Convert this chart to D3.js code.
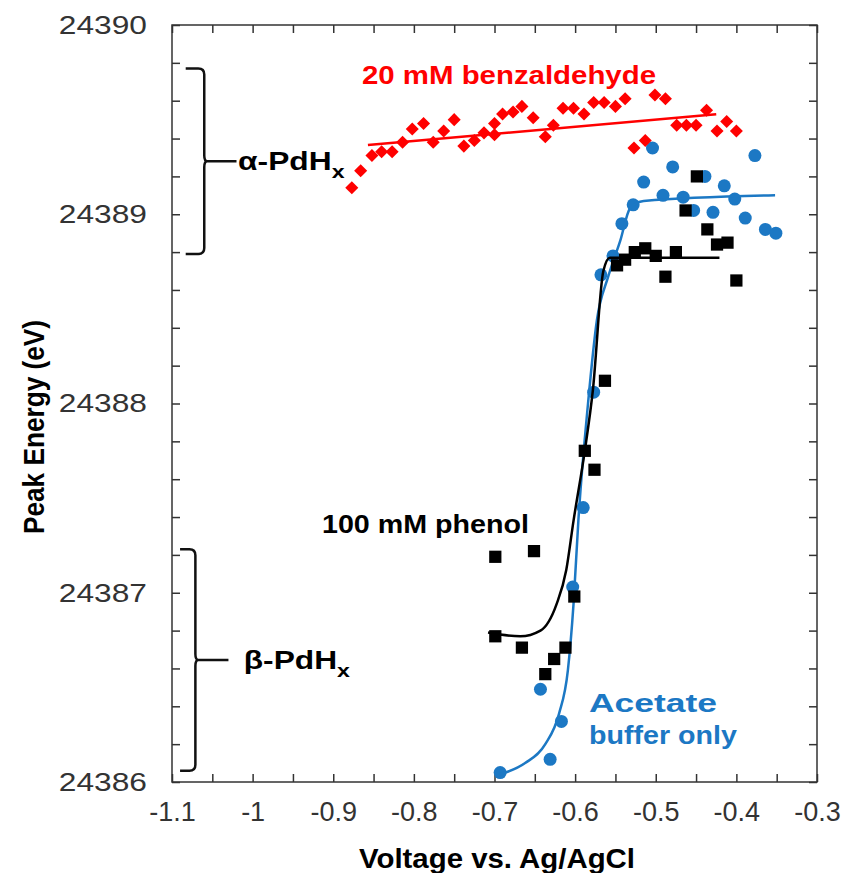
<!DOCTYPE html>
<html>
<head>
<meta charset="utf-8">
<script src="https://cdn.jsdelivr.net/npm/d3@7"></script>
<style>
  body { margin: 0; background: #fff; }
  text { font-family: "Liberation Sans", Arial, sans-serif; }
</style>
</head>
<body>
<script>
// peak energy vs voltage, three conditions + fitted lines

var W = 848, H = 873;

// x tick labels (major every 0.1) and y tick labels (every 1 eV)
var xTickLabels = ["-1.1", "-1", "-0.9", "-0.8", "-0.7", "-0.6", "-0.5", "-0.4", "-0.3"];
var yTickLabels = ["24386", "24387", "24388", "24389", "24390"];

// 20 mM benzaldehyde (red diamonds)
var benzX = [-0.877, -0.866, -0.852, -0.840, -0.827, -0.814, -0.802, -0.788, -0.776, -0.763,
             -0.750, -0.738, -0.725, -0.713, -0.700, -0.700, -0.690, -0.677, -0.666, -0.652,
             -0.637, -0.627, -0.615, -0.602, -0.589, -0.577, -0.564, -0.550, -0.538, -0.527,
             -0.513, -0.501, -0.488, -0.474, -0.462, -0.450, -0.437, -0.424, -0.412, -0.400];
var benzY = [24389.14, 24389.23, 24389.31, 24389.33, 24389.33, 24389.38, 24389.45, 24389.48, 24389.38, 24389.44,
             24389.50, 24389.36, 24389.39, 24389.43, 24389.48, 24389.42, 24389.53, 24389.54, 24389.57, 24389.51,
             24389.41, 24389.47, 24389.56, 24389.56, 24389.53, 24389.59, 24389.59, 24389.57, 24389.61, 24389.35,
             24389.39, 24389.63, 24389.61, 24389.47, 24389.47, 24389.47, 24389.55, 24389.44, 24389.49, 24389.44];
var benzFitX = [-0.857, -0.425];
var benzFitY = [24389.366, 24389.528];

// acetate buffer only (blue circles)
var acetX = [-0.693, -0.643, -0.631, -0.617, -0.603, -0.590, -0.577, -0.568, -0.553, -0.542,
             -0.528, -0.515, -0.504, -0.491, -0.479, -0.466, -0.453, -0.439, -0.429, -0.415,
             -0.402, -0.389, -0.377, -0.364, -0.351];
var acetY = [24386.05, 24386.49, 24386.12, 24386.32, 24387.03, 24387.45, 24388.06, 24388.68, 24388.78, 24388.95,
             24389.05, 24389.17, 24389.35, 24389.10, 24389.25, 24389.09, 24389.02, 24389.20, 24389.01, 24389.15,
             24389.08, 24388.98, 24389.31, 24388.92, 24388.90];
var acetFitX = [-0.693, -0.662, -0.637, -0.620, -0.609, -0.602, -0.596, -0.584, -0.573, -0.559, -0.544, -0.532, -0.515, -0.352];
var acetFitY = [24386.04, 24386.10, 24386.20, 24386.36, 24386.59, 24386.94, 24387.38, 24388.00, 24388.44, 24388.67, 24388.86, 24389.03, 24389.07, 24389.10];

// 100 mM phenol (black squares)
var phenX = [-0.699, -0.651, -0.699, -0.666, -0.637, -0.626, -0.612, -0.601, -0.576, -0.588,
             -0.563, -0.548, -0.538, -0.526, -0.513, -0.500, -0.488, -0.475, -0.463, -0.449,
             -0.436, -0.424, -0.411, -0.400];
var phenY = [24387.19, 24387.22, 24386.77, 24386.71, 24386.57, 24386.65, 24386.71, 24386.98, 24387.65, 24387.75,
             24388.12, 24388.73, 24388.76, 24388.80, 24388.82, 24388.78, 24388.67, 24388.80, 24389.02, 24389.20,
             24388.92, 24388.84, 24388.85, 24388.65];
var phenFitX = [-0.708, -0.668, -0.643, -0.623, -0.611, -0.602, -0.588, -0.578, -0.565, -0.557, -0.519, -0.421];
var phenFitY = [24386.79, 24386.77, 24386.80, 24386.94, 24387.12, 24387.38, 24387.75, 24388.07, 24388.70, 24388.77, 24388.77, 24388.77];

var red = "#ff0000", blue = "#1c78c4", black = "#000000";
var SX = 1.22; // the source figure's text is stretched sideways

var svg = d3.select("body").append("svg").attr("width", W).attr("height", H);

var x = d3.scaleLinear().domain([-1.1, -0.3]).range([172, 817]);
var y = d3.scaleLinear().domain([24386, 24390]).range([782, 25]);

// ticks: 0.05 on x, 0.2 on y, all pointing inward
var xTicks = d3.range(0, 17).map(function(i) { return -1.1 + i * 0.05; });
var yTicks = d3.range(0, 21).map(function(i) { return 24386 + i * 0.2; });

function xLab(d) {
  var k = Math.round((d + 1.1) / 0.05);
  return k % 2 == 0 ? xTickLabels[k / 2] : "";
}
function yLab(d) {
  var k = Math.round((d - 24386) / 0.2);
  return k % 5 == 0 ? yTickLabels[k / 5] : "";
}

var axB = svg.append("g").attr("transform", "translate(0," + y.range()[0] + ")")
  .call(d3.axisBottom(x).tickValues(xTicks).tickSize(-8).tickPadding(30).tickFormat(xLab));
var axT = svg.append("g").attr("transform", "translate(0," + y.range()[1] + ")")
  .call(d3.axisTop(x).tickValues(xTicks).tickSize(-8).tickFormat(""));
var axL = svg.append("g").attr("transform", "translate(" + x.range()[0] + ",0)")
  .call(d3.axisLeft(y).tickValues(yTicks).tickSize(-8).tickFormat(yLab));
var axR = svg.append("g").attr("transform", "translate(" + x.range()[1] + ",0)")
  .call(d3.axisRight(y).tickValues(yTicks).tickSize(-8).tickFormat(""));

[axB, axT, axL, axR].forEach(function(a) {
  a.select(".domain").remove();
  a.selectAll(".tick line").attr("stroke", "#333").attr("stroke-width", 1.5);
  a.selectAll("text").attr("font-size", 26).attr("fill", "#333")
    .style("font-family", "'Liberation Sans', Arial, sans-serif");
});
axB.selectAll("text").attr("dy", "0.32em").attr("font-size", 27);
axL.selectAll("text").attr("x", -25 / SX).attr("transform", "scale(" + SX + ",1)");

svg.append("rect")
  .attr("x", x.range()[0]).attr("y", y.range()[1])
  .attr("width", x.range()[1] - x.range()[0]).attr("height", y.range()[0] - y.range()[1])
  .attr("fill", "none").attr("stroke", "#333").attr("stroke-width", 1.5);

// axis titles
svg.append("text")
  .attr("x", 497).attr("y", 868)
  .attr("text-anchor", "middle").attr("font-weight", "bold").attr("font-size", 28)
  .attr("textLength", 276).attr("lengthAdjust", "spacingAndGlyphs")
  .text("Voltage vs. Ag/AgCl");
svg.append("text")
  .attr("transform", "translate(44,427) rotate(-90)")
  .attr("text-anchor", "middle").attr("font-weight", "bold").attr("font-size", 29)
  .attr("textLength", 214).attr("lengthAdjust", "spacingAndGlyphs")
  .text("Peak Energy (eV)");

// phase brackets
var brackets = [
  { top: 24389.77, bot: 24388.79, xl: -1.083, xv: -1.060, xm: -1.020, lx: -1.018, label: "\u03b1-PdH" },
  { top: 24387.23, bot: 24386.06, xl: -1.090, xv: -1.071, xm: -1.030, lx: -1.011, label: "\u03b2-PdH" }
];
brackets.forEach(function(b) {
  var y0 = y(b.top), y1 = y(b.bot), ym = (y0 + y1) / 2;
  var xl = x(b.xl), xv = x(b.xv), xm = x(b.xm), r = 6;
  var p = "M" + xl + "," + y0 + " L" + (xv - r) + "," + y0 +
          " Q" + xv + "," + y0 + " " + xv + "," + (y0 + r) +
          " L" + xv + "," + (ym - r) + " Q" + xv + "," + ym + " " + (xv + 3) + "," + ym +
          " L" + xm + "," + ym +
          " M" + (xv + 3) + "," + ym + " Q" + xv + "," + ym + " " + xv + "," + (ym + r) +
          " L" + xv + "," + (y1 - r) + " Q" + xv + "," + y1 + " " + (xv - r) + "," + y1 +
          " L" + xl + "," + y1;
  svg.append("path").attr("d", p).attr("fill", "none").attr("stroke", "#111").attr("stroke-width", 2.5);
  var t = svg.append("text")
    .attr("transform", "translate(" + x(b.lx) + "," + (ym + 9) + ") scale(" + SX + ",1)")
    .attr("font-weight", "bold").attr("font-size", 26).text(b.label);
  t.append("tspan").attr("font-size", 19).attr("dy", 8).text("x");
});

function zip(xs, ys) { return xs.map(function(v, i) { return [v, ys[i]]; }); }

var line = d3.line()
  .x(function(d) { return x(d[0]); })
  .y(function(d) { return y(d[1]); })
  .curve(d3.curveMonotoneX);

// acetate (blue)
svg.append("g").selectAll("circle").data(zip(acetX, acetY)).enter().append("circle")
  .attr("cx", function(d) { return x(d[0]); })
  .attr("cy", function(d) { return y(d[1]); })
  .attr("r", 6.5).attr("fill", blue);
svg.append("path").datum(zip(acetFitX, acetFitY)).attr("d", line)
  .attr("fill", "none").attr("stroke", blue).attr("stroke-width", 2.5);

// phenol (black)
svg.append("g").selectAll("path").data(zip(phenX, phenY)).enter().append("path")
  .attr("d", d3.symbol(d3.symbolSquare, 150))
  .attr("transform", function(d) { return "translate(" + x(d[0]) + "," + y(d[1]) + ")"; })
  .attr("fill", black);
svg.append("path").datum(zip(phenFitX, phenFitY)).attr("d", line)
  .attr("fill", "none").attr("stroke", black).attr("stroke-width", 2.5);

// benzaldehyde (red)
svg.append("g").selectAll("path").data(zip(benzX, benzY)).enter().append("path")
  .attr("d", d3.symbol(d3.symbolSquare, 85))
  .attr("transform", function(d) { return "translate(" + x(d[0]) + "," + y(d[1]) + ") rotate(45)"; })
  .attr("fill", red);
svg.append("path").datum(zip(benzFitX, benzFitY)).attr("d", line)
  .attr("fill", "none").attr("stroke", red).attr("stroke-width", 2.5);

// series labels
function label(txt, px, py, len, col) {
  svg.append("text").attr("x", px).attr("y", py)
    .attr("font-weight", "bold").attr("font-size", 26).attr("fill", col)
    .attr("textLength", len).attr("lengthAdjust", "spacingAndGlyphs")
    .text(txt);
}
label("20 mM benzaldehyde", 362, 84, 294, red);
label("100 mM phenol", 322, 533, 207, black);
label("Acetate", 589, 712, 128, blue);
label("buffer only", 589, 744, 148, blue);
</script>
</body>
</html>
